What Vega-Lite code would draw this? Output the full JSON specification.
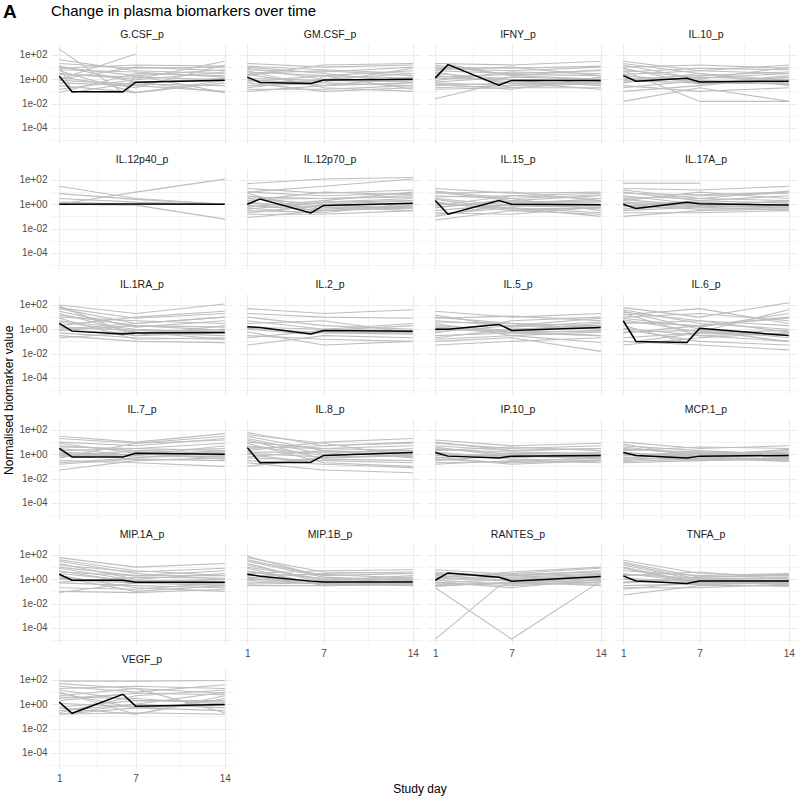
{
"$schema":"https://vega.github.io/schema/vega-lite/v6.json",
"background":"white",
"padding":{"left":2,"right":1,"top":2,"bottom":2},
"config":{"font":"Liberation Sans","view":{"stroke":null},"concat":{"spacing":0},
 "header":{"labelFontSize":10.5,"labelColor":"#1A1A1A","labelPadding":4},
 "axis":{"ticks":false,"domain":false,"gridColor":"#EBEBEB","labelColor":"#4D4D4D","labelFontSize":10,"labelPadding":4}},
"title":{"text":"A","anchor":"start","frame":"bounds","fontSize":19,"fontWeight":"bold","color":"black","dy":18,"offset":0},
"data":{"values":[
{"m":"G.CSF_p","s":1,"d":[1,6,7,14],"v":[300,0.08,0.5,1.2]},
{"m":"G.CSF_p","s":2,"d":[1,2,7,14],"v":[2,0.08,0.6,0.8]},
{"m":"G.CSF_p","s":3,"d":[1,7],"v":[1,120]},
{"m":"G.CSF_p","s":4,"d":[1,7,14],"v":[40,5,3]},
{"m":"G.CSF_p","s":5,"d":[1,7,14],"v":[20,8,10]},
{"m":"G.CSF_p","s":6,"d":[1,7,14],"v":[10,2,0.08]},
{"m":"G.CSF_p","s":7,"d":[1,7,14],"v":[5,0.08,0.5]},
{"m":"G.CSF_p","s":8,"d":[1,7,14],"v":[3,1,30]},
{"m":"G.CSF_p","s":9,"d":[1,7,14],"v":[0.08,3,2]},
{"m":"G.CSF_p","s":10,"d":[1,7,14],"v":[1,10,5]},
{"m":"G.CSF_p","s":11,"d":[1,7,14],"v":[0.5,0.3,0.1]},
{"m":"G.CSF_p","s":12,"d":[1,7,14],"v":[8,15,12]},
{"m":"G.CSF_p","s":13,"d":[1,7,14],"v":[0.3,0.08,0.8]},
{"m":"G.CSF_p","s":14,"d":[1,2,6,7,14],"v":[15,0.1,0.08,2,6]},
{"m":"G.CSF_p","s":15,"d":[1,7,14],"v":[0.8,0.4,0.3]},
{"m":"G.CSF_p","s":16,"d":[1,7,14],"v":[2.5,1.5,0.9]},
{"m":"G.CSF_p","s":17,"d":[1,7,14],"v":[12,0.6,0.08]},
{"m":"G.CSF_p","s":18,"d":[1,7,14],"v":[0.15,0.9,4]},
{"m":"G.CSF_p","s":19,"d":[1,7,14],"v":[6,4,1.5]},
{"m":"G.CSF_p","s":20,"d":[1,7,14],"v":[1.5,0.2,15]},
{"m":"G.CSF_p","s":0,"d":[1,2,6,7,14],"v":[1.8,0.093,0.093,0.57,0.83]},
{"m":"GM.CSF_p","s":1,"d":[1,7,14],"v":[20,10,15]},
{"m":"GM.CSF_p","s":2,"d":[1,7,14],"v":[10,3,0.5]},
{"m":"GM.CSF_p","s":3,"d":[1,2,7,14],"v":[1.5,0.5,0.8,1]},
{"m":"GM.CSF_p","s":4,"d":[1,6,7,14],"v":[0.3,0.4,2,5]},
{"m":"GM.CSF_p","s":5,"d":[1,7,14],"v":[5,0.2,0.1]},
{"m":"GM.CSF_p","s":6,"d":[1,7,14],"v":[0.2,1,3]},
{"m":"GM.CSF_p","s":7,"d":[1,7,14],"v":[3,5,2]},
{"m":"GM.CSF_p","s":8,"d":[1,7,14],"v":[0.8,0.5,0.3]},
{"m":"GM.CSF_p","s":9,"d":[1,7,14],"v":[2,15,20]},
{"m":"GM.CSF_p","s":10,"d":[1,7,14],"v":[0.5,0.1,0.2]},
{"m":"GM.CSF_p","s":11,"d":[1,7,14],"v":[8,1,0.8]},
{"m":"GM.CSF_p","s":12,"d":[1,2,6,7,14],"v":[1,0.6,0.5,0.6,8]},
{"m":"GM.CSF_p","s":13,"d":[1,7,14],"v":[0.1,0.3,1.5]},
{"m":"GM.CSF_p","s":14,"d":[1,7,14],"v":[4,2,0.15]},
{"m":"GM.CSF_p","s":15,"d":[1,7,14],"v":[1.2,0.8,0.6]},
{"m":"GM.CSF_p","s":16,"d":[1,7,14],"v":[0.6,2,1.2]},
{"m":"GM.CSF_p","s":17,"d":[1,7,14],"v":[6,4,10]},
{"m":"GM.CSF_p","s":18,"d":[1,7,14],"v":[0.15,0.15,0.3]},
{"m":"GM.CSF_p","s":19,"d":[1,7,14],"v":[2.5,0.3,0.5]},
{"m":"GM.CSF_p","s":20,"d":[1,7,14],"v":[12,6,3]},
{"m":"GM.CSF_p","s":0,"d":[1,2,6,7,14],"v":[1.5,0.55,0.45,0.85,1.0]},
{"m":"IFNY_p","s":1,"d":[1,2,7,14],"v":[1,16,2,1]},
{"m":"IFNY_p","s":2,"d":[1,7,14],"v":[20,15,30]},
{"m":"IFNY_p","s":3,"d":[1,7,14],"v":[10,8,12]},
{"m":"IFNY_p","s":4,"d":[1,6,7,14],"v":[0.5,0.32,0.2,0.5]},
{"m":"IFNY_p","s":5,"d":[1,7,14],"v":[0.025,0.8,0.3]},
{"m":"IFNY_p","s":6,"d":[1,7,14],"v":[3,1,0.8]},
{"m":"IFNY_p","s":7,"d":[1,7,14],"v":[0.3,0.5,0.15]},
{"m":"IFNY_p","s":8,"d":[1,7,14],"v":[5,3,5]},
{"m":"IFNY_p","s":9,"d":[1,7,14],"v":[0.15,0.2,0.2]},
{"m":"IFNY_p","s":10,"d":[1,7,14],"v":[2,0.6,0.4]},
{"m":"IFNY_p","s":11,"d":[1,7,14],"v":[0.8,4,3]},
{"m":"IFNY_p","s":12,"d":[1,7,14],"v":[15,2,6]},
{"m":"IFNY_p","s":13,"d":[1,7,14],"v":[0.4,0.15,1.5]},
{"m":"IFNY_p","s":14,"d":[1,7,14],"v":[6,10,2]},
{"m":"IFNY_p","s":15,"d":[1,7,14],"v":[1.2,0.9,0.7]},
{"m":"IFNY_p","s":16,"d":[1,7,14],"v":[0.6,1.5,1]},
{"m":"IFNY_p","s":17,"d":[1,7,14],"v":[4,0.4,0.6]},
{"m":"IFNY_p","s":18,"d":[1,7,14],"v":[0.2,0.3,0.5]},
{"m":"IFNY_p","s":19,"d":[1,7,14],"v":[8,5,10]},
{"m":"IFNY_p","s":20,"d":[1,7,14],"v":[1.5,2.5,2]},
{"m":"IFNY_p","s":0,"d":[1,2,6,7,14],"v":[1.3,16,0.32,0.8,0.8]},
{"m":"IL.10_p","s":1,"d":[1,7,14],"v":[30,5,3]},
{"m":"IL.10_p","s":2,"d":[1,7,14],"v":[10,15,8]},
{"m":"IL.10_p","s":3,"d":[1,2,7,14],"v":[3,0.7,0.5,0.4]},
{"m":"IL.10_p","s":4,"d":[1,6,7,14],"v":[0.8,1.2,0.6,1]},
{"m":"IL.10_p","s":5,"d":[1,7,14],"v":[0.015,0.2,0.015]},
{"m":"IL.10_p","s":6,"d":[1,7,14],"v":[5,0.015,0.015]},
{"m":"IL.10_p","s":7,"d":[1,7,14],"v":[1,2,4]},
{"m":"IL.10_p","s":8,"d":[1,7,14],"v":[0.3,0.1,0.2]},
{"m":"IL.10_p","s":9,"d":[1,7,14],"v":[2,0.6,0.7]},
{"m":"IL.10_p","s":10,"d":[1,7,14],"v":[15,1,10]},
{"m":"IL.10_p","s":11,"d":[1,7,14],"v":[0.5,3,0.3]},
{"m":"IL.10_p","s":12,"d":[1,7,14],"v":[8,0.4,2]},
{"m":"IL.10_p","s":13,"d":[1,7,14],"v":[0.1,0.3,1.5]},
{"m":"IL.10_p","s":14,"d":[1,7,14],"v":[4,8,6]},
{"m":"IL.10_p","s":15,"d":[1,7,14],"v":[1.2,0.8,0.5]},
{"m":"IL.10_p","s":16,"d":[1,7,14],"v":[0.6,1.5,1]},
{"m":"IL.10_p","s":17,"d":[1,7,14],"v":[20,3,0.8]},
{"m":"IL.10_p","s":18,"d":[1,7,14],"v":[0.2,0.8,0.4]},
{"m":"IL.10_p","s":19,"d":[1,7,14],"v":[2.5,5,15]},
{"m":"IL.10_p","s":20,"d":[1,7,14],"v":[6,1.2,3]},
{"m":"IL.10_p","s":0,"d":[1,2,6,7,14],"v":[2,0.7,1.2,0.6,0.7]},
{"m":"IL.12p40_p","s":1,"d":[1,7,14],"v":[30,3,1]},
{"m":"IL.12p40_p","s":2,"d":[1,7,14],"v":[7.5,2.5,1]},
{"m":"IL.12p40_p","s":3,"d":[1,7,14],"v":[3,1.5,1]},
{"m":"IL.12p40_p","s":4,"d":[1,7,14],"v":[1,10,117]},
{"m":"IL.12p40_p","s":5,"d":[1,7,14],"v":[1,0.85,0.06]},
{"m":"IL.12p40_p","s":6,"d":[1,7,14],"v":[1.5,1,1]},
{"m":"IL.12p40_p","s":0,"d":[1,7,14],"v":[1,1.05,1]},
{"m":"IL.12p70_p","s":1,"d":[1,7,14],"v":[50,120,160]},
{"m":"IL.12p70_p","s":2,"d":[1,7,14],"v":[10,30,120]},
{"m":"IL.12p70_p","s":3,"d":[1,2,7,14],"v":[1,2.7,3,5]},
{"m":"IL.12p70_p","s":4,"d":[1,6,7,14],"v":[0.5,0.19,0.8,1]},
{"m":"IL.12p70_p","s":5,"d":[1,7,14],"v":[0.08,0.3,0.5]},
{"m":"IL.12p70_p","s":6,"d":[1,7,14],"v":[10,5,8]},
{"m":"IL.12p70_p","s":7,"d":[1,7,14],"v":[3,1,2]},
{"m":"IL.12p70_p","s":8,"d":[1,7,14],"v":[0.2,0.8,0.5]},
{"m":"IL.12p70_p","s":9,"d":[1,7,14],"v":[5,0.6,0.3]},
{"m":"IL.12p70_p","s":10,"d":[1,7,14],"v":[0.6,2,10]},
{"m":"IL.12p70_p","s":11,"d":[1,7,14],"v":[1.5,0.4,0.8]},
{"m":"IL.12p70_p","s":12,"d":[1,7,14],"v":[0.3,0.2,1.2]},
{"m":"IL.12p70_p","s":13,"d":[1,6,7,14],"v":[8,0.3,1.5,3]},
{"m":"IL.12p70_p","s":14,"d":[1,7,14],"v":[2,10,6]},
{"m":"IL.12p70_p","s":15,"d":[1,7,14],"v":[1.2,0.6,0.5]},
{"m":"IL.12p70_p","s":16,"d":[1,7,14],"v":[0.4,1.5,2]},
{"m":"IL.12p70_p","s":17,"d":[1,7,14],"v":[4,3,4]},
{"m":"IL.12p70_p","s":18,"d":[1,7,14],"v":[0.15,0.15,0.3]},
{"m":"IL.12p70_p","s":19,"d":[1,7,14],"v":[20,8,15]},
{"m":"IL.12p70_p","s":20,"d":[1,7,14],"v":[0.8,0.3,0.7]},
{"m":"IL.12p70_p","s":0,"d":[1,2,6,7,14],"v":[1,2.7,0.19,0.8,1.2]},
{"m":"IL.15_p","s":1,"d":[1,7,14],"v":[20,8,10]},
{"m":"IL.15_p","s":2,"d":[1,2,7,14],"v":[2,0.15,1,0.8]},
{"m":"IL.15_p","s":3,"d":[1,6,7,14],"v":[0.5,2,1.5,2]},
{"m":"IL.15_p","s":4,"d":[1,7,14],"v":[0.05,0.3,0.5]},
{"m":"IL.15_p","s":5,"d":[1,7,14],"v":[5,3,0.3]},
{"m":"IL.15_p","s":6,"d":[1,7,14],"v":[1,0.5,0.1]},
{"m":"IL.15_p","s":7,"d":[1,7,14],"v":[10,2,5]},
{"m":"IL.15_p","s":8,"d":[1,7,14],"v":[0.3,1,3]},
{"m":"IL.15_p","s":9,"d":[1,7,14],"v":[3,0.8,0.9]},
{"m":"IL.15_p","s":10,"d":[1,7,14],"v":[0.8,5,8]},
{"m":"IL.15_p","s":11,"d":[1,7,14],"v":[0.2,0.15,0.6]},
{"m":"IL.15_p","s":12,"d":[1,7,14],"v":[8,10,2]},
{"m":"IL.15_p","s":13,"d":[1,7,14],"v":[1.5,0.3,0.15]},
{"m":"IL.15_p","s":14,"d":[1,7,14],"v":[0.1,1.2,1]},
{"m":"IL.15_p","s":15,"d":[1,7,14],"v":[1.2,0.7,0.6]},
{"m":"IL.15_p","s":16,"d":[1,7,14],"v":[0.6,1.5,1.5]},
{"m":"IL.15_p","s":17,"d":[1,7,14],"v":[4,5,3]},
{"m":"IL.15_p","s":18,"d":[1,7,14],"v":[0.15,0.5,0.2]},
{"m":"IL.15_p","s":19,"d":[1,7,14],"v":[2.5,0.4,0.5]},
{"m":"IL.15_p","s":20,"d":[1,7,14],"v":[12,3,6]},
{"m":"IL.15_p","s":0,"d":[1,2,6,7,14],"v":[2,0.15,2,1,0.9]},
{"m":"IL.17A_p","s":1,"d":[1,7],"v":[55,55]},
{"m":"IL.17A_p","s":2,"d":[1,7,14],"v":[20,15,30]},
{"m":"IL.17A_p","s":3,"d":[1,2,7,14],"v":[1,0.45,0.8,0.6]},
{"m":"IL.17A_p","s":4,"d":[1,6,7,14],"v":[0.6,1.45,1.2,0.8]},
{"m":"IL.17A_p","s":5,"d":[1,7,14],"v":[0.1,0.3,0.4]},
{"m":"IL.17A_p","s":6,"d":[1,7,14],"v":[10,2,5]},
{"m":"IL.17A_p","s":7,"d":[1,7,14],"v":[3,5,8]},
{"m":"IL.17A_p","s":8,"d":[1,7,14],"v":[0.3,0.6,0.3]},
{"m":"IL.17A_p","s":9,"d":[1,7,14],"v":[5,1,1.5]},
{"m":"IL.17A_p","s":10,"d":[1,7,14],"v":[2,10,3]},
{"m":"IL.17A_p","s":11,"d":[1,7,14],"v":[0.8,0.4,0.5]},
{"m":"IL.17A_p","s":12,"d":[1,7,14],"v":[15,3,12]},
{"m":"IL.17A_p","s":13,"d":[1,7,14],"v":[0.4,1.5,0.7]},
{"m":"IL.17A_p","s":14,"d":[1,7,14],"v":[1.5,0.8,2]},
{"m":"IL.17A_p","s":15,"d":[1,7,14],"v":[1.2,0.6,0.8]},
{"m":"IL.17A_p","s":16,"d":[1,7,14],"v":[0.7,2,1.2]},
{"m":"IL.17A_p","s":17,"d":[1,7,14],"v":[4,3,2]},
{"m":"IL.17A_p","s":18,"d":[1,7,14],"v":[0.2,0.2,0.3]},
{"m":"IL.17A_p","s":19,"d":[1,7,14],"v":[8,6,10]},
{"m":"IL.17A_p","s":20,"d":[1,7,14],"v":[2.5,0.7,0.5]},
{"m":"IL.17A_p","s":0,"d":[1,2,6,7,14],"v":[1,0.45,1.45,1.1,0.85]},
{"m":"IL.1RA_p","s":1,"d":[1,7,14],"v":[100,20,120]},
{"m":"IL.1RA_p","s":2,"d":[1,7,14],"v":[50,3,10]},
{"m":"IL.1RA_p","s":3,"d":[1,2,7,14],"v":[3,0.7,0.5,0.3]},
{"m":"IL.1RA_p","s":4,"d":[1,6,7,14],"v":[1,0.4,0.3,0.5]},
{"m":"IL.1RA_p","s":5,"d":[1,7,14],"v":[0.3,0.1,0.08]},
{"m":"IL.1RA_p","s":6,"d":[1,7,14],"v":[20,0.5,1]},
{"m":"IL.1RA_p","s":7,"d":[1,7,14],"v":[10,5,3]},
{"m":"IL.1RA_p","s":8,"d":[1,7,14],"v":[0.5,0.2,0.15]},
{"m":"IL.1RA_p","s":9,"d":[1,7,14],"v":[5,1,0.5]},
{"m":"IL.1RA_p","s":10,"d":[1,7,14],"v":[2,10,30]},
{"m":"IL.1RA_p","s":11,"d":[1,7,14],"v":[80,0.3,2]},
{"m":"IL.1RA_p","s":12,"d":[1,7,14],"v":[0.8,2,0.8]},
{"m":"IL.1RA_p","s":13,"d":[1,7,14],"v":[8,0.15,0.2]},
{"m":"IL.1RA_p","s":14,"d":[1,7,14],"v":[30,1.5,5]},
{"m":"IL.1RA_p","s":15,"d":[1,7,14],"v":[1.5,0.8,0.6]},
{"m":"IL.1RA_p","s":16,"d":[1,7,14],"v":[0.2,0.5,1]},
{"m":"IL.1RA_p","s":17,"d":[1,7,14],"v":[15,2,1.5]},
{"m":"IL.1RA_p","s":18,"d":[1,7,14],"v":[4,0.6,0.15]},
{"m":"IL.1RA_p","s":19,"d":[1,7,14],"v":[60,8,20]},
{"m":"IL.1RA_p","s":20,"d":[1,7,14],"v":[1,3,10]},
{"m":"IL.1RA_p","s":0,"d":[1,2,6,7,14],"v":[3,0.7,0.4,0.5,0.55]},
{"m":"IL.2_p","s":1,"d":[1,7,14],"v":[50,20,40]},
{"m":"IL.2_p","s":2,"d":[1,2,7,14],"v":[1.5,1.4,1,0.7]},
{"m":"IL.2_p","s":3,"d":[1,6,7,14],"v":[1,0.4,0.6,0.5]},
{"m":"IL.2_p","s":4,"d":[1,7,14],"v":[0.05,0.3,0.2]},
{"m":"IL.2_p","s":5,"d":[1,7,14],"v":[5,1,3]},
{"m":"IL.2_p","s":6,"d":[1,7,14],"v":[0.3,0.15,0.1]},
{"m":"IL.2_p","s":7,"d":[1,7,14],"v":[10,2,1]},
{"m":"IL.2_p","s":8,"d":[1,7,14],"v":[0.2,0.8,2]},
{"m":"IL.2_p","s":9,"d":[1,7,14],"v":[3,5,0.5]},
{"m":"IL.2_p","s":10,"d":[1,7,14],"v":[1.2,0.5,0.4]},
{"m":"IL.2_p","s":11,"d":[1,7,14],"v":[20,10,8]},
{"m":"IL.2_p","s":12,"d":[1,7,14],"v":[0.6,0.05,0.1]},
{"m":"IL.2_p","s":0,"d":[1,2,6,7,14],"v":[1.6,1.4,0.4,0.8,0.7]},
{"m":"IL.5_p","s":1,"d":[1,7,14],"v":[30,10,20]},
{"m":"IL.5_p","s":2,"d":[1,2,7,14],"v":[1,1,0.5,0.8]},
{"m":"IL.5_p","s":3,"d":[1,6,7,14],"v":[0.8,2.5,1,1.4]},
{"m":"IL.5_p","s":4,"d":[1,7,14],"v":[0.1,0.2,0.015]},
{"m":"IL.5_p","s":5,"d":[1,7,14],"v":[5,2,8]},
{"m":"IL.5_p","s":6,"d":[1,7,14],"v":[0.3,0.5,0.3]},
{"m":"IL.5_p","s":7,"d":[1,7,14],"v":[10,3,1]},
{"m":"IL.5_p","s":8,"d":[1,7,14],"v":[0.05,0.1,0.2]},
{"m":"IL.5_p","s":9,"d":[1,7,14],"v":[2,0.8,3]},
{"m":"IL.5_p","s":10,"d":[1,7,14],"v":[0.5,5,10]},
{"m":"IL.5_p","s":11,"d":[1,7,14],"v":[3,0.3,0.6]},
{"m":"IL.5_p","s":12,"d":[1,7,14],"v":[0.2,1,2]},
{"m":"IL.5_p","s":13,"d":[1,7,14],"v":[8,12,5]},
{"m":"IL.5_p","s":14,"d":[1,7,14],"v":[1.2,0.7,0.6]},
{"m":"IL.5_p","s":15,"d":[1,7,14],"v":[0.6,2,1.5]},
{"m":"IL.5_p","s":16,"d":[1,7,14],"v":[4,3,2]},
{"m":"IL.5_p","s":17,"d":[1,7,14],"v":[0.15,0.3,0.08]},
{"m":"IL.5_p","s":18,"d":[1,7,14],"v":[15,1.5,4]},
{"m":"IL.5_p","s":19,"d":[1,7,14],"v":[1.5,0.6,0.3]},
{"m":"IL.5_p","s":0,"d":[1,2,6,7,14],"v":[1,1,2.5,0.8,1.4]},
{"m":"IL.6_p","s":1,"d":[1,7,14],"v":[60,10,150]},
{"m":"IL.6_p","s":2,"d":[1,2,7,14],"v":[5,0.1,0.5,0.3]},
{"m":"IL.6_p","s":3,"d":[1,6,7,14],"v":[2,0.08,1,0.2]},
{"m":"IL.6_p","s":4,"d":[1,7,14],"v":[30,1,0.3]},
{"m":"IL.6_p","s":5,"d":[1,7,14],"v":[10,20,5]},
{"m":"IL.6_p","s":6,"d":[1,7,14],"v":[0.1,0.05,0.02]},
{"m":"IL.6_p","s":7,"d":[1,7,14],"v":[3,5,2]},
{"m":"IL.6_p","s":8,"d":[1,7,14],"v":[20,0.3,0.1]},
{"m":"IL.6_p","s":9,"d":[1,7,14],"v":[0.5,2,10]},
{"m":"IL.6_p","s":10,"d":[1,7,14],"v":[1,0.1,0.05]},
{"m":"IL.6_p","s":11,"d":[1,7,14],"v":[40,3,1]},
{"m":"IL.6_p","s":12,"d":[1,7,14],"v":[0.2,0.5,0.8]},
{"m":"IL.6_p","s":13,"d":[1,7,14],"v":[8,1.5,20]},
{"m":"IL.6_p","s":14,"d":[1,7,14],"v":[15,50,3]},
{"m":"IL.6_p","s":15,"d":[1,7,14],"v":[1.2,0.3,0.5]},
{"m":"IL.6_p","s":16,"d":[1,7,14],"v":[4,2,8]},
{"m":"IL.6_p","s":17,"d":[1,7,14],"v":[0.6,0.8,0.1]},
{"m":"IL.6_p","s":18,"d":[1,7,14],"v":[25,5,0.6]},
{"m":"IL.6_p","s":19,"d":[1,7,14],"v":[0.05,0.2,0.5]},
{"m":"IL.6_p","s":20,"d":[1,7,14],"v":[6,0.6,40]},
{"m":"IL.6_p","s":0,"d":[1,2,6,7,14],"v":[5,0.1,0.08,1.2,0.3]},
{"m":"IL.7_p","s":1,"d":[1,7,14],"v":[30,10,50]},
{"m":"IL.7_p","s":2,"d":[1,2,7,14],"v":[3,0.6,1,1]},
{"m":"IL.7_p","s":3,"d":[1,6,7,14],"v":[1,0.6,1.5,0.8]},
{"m":"IL.7_p","s":4,"d":[1,7,14],"v":[0.05,0.3,0.5]},
{"m":"IL.7_p","s":5,"d":[1,7,14],"v":[10,5,20]},
{"m":"IL.7_p","s":6,"d":[1,7,14],"v":[0.3,0.2,0.1]},
{"m":"IL.7_p","s":7,"d":[1,7,14],"v":[5,2,3]},
{"m":"IL.7_p","s":8,"d":[1,7,14],"v":[0.8,1,0.6]},
{"m":"IL.7_p","s":9,"d":[1,7,14],"v":[2,3,8]},
{"m":"IL.7_p","s":10,"d":[1,7,14],"v":[0.2,0.5,1.5]},
{"m":"IL.7_p","s":11,"d":[1,7,14],"v":[8,1.2,0.4]},
{"m":"IL.7_p","s":12,"d":[1,7,14],"v":[1.5,0.8,2]},
{"m":"IL.7_p","s":13,"d":[1,7,14],"v":[0.5,8,15]},
{"m":"IL.7_p","s":14,"d":[1,7,14],"v":[1.2,0.6,0.7]},
{"m":"IL.7_p","s":15,"d":[1,7,14],"v":[0.6,2,1.2]},
{"m":"IL.7_p","s":16,"d":[1,7,14],"v":[4,3,2]},
{"m":"IL.7_p","s":17,"d":[1,7,14],"v":[20,8,30]},
{"m":"IL.7_p","s":18,"d":[1,7,14],"v":[0.15,0.4,0.3]},
{"m":"IL.7_p","s":19,"d":[1,7,14],"v":[3,0.8,5]},
{"m":"IL.7_p","s":0,"d":[1,2,6,7,14],"v":[3,0.6,0.6,1.2,1]},
{"m":"IL.8_p","s":1,"d":[1,7,14],"v":[60,5,10]},
{"m":"IL.8_p","s":2,"d":[1,2,7,14],"v":[3.5,0.2,0.5,1]},
{"m":"IL.8_p","s":3,"d":[1,6,7,14],"v":[1,0.22,0.8,1.5]},
{"m":"IL.8_p","s":4,"d":[1,7,14],"v":[30,2,0.5]},
{"m":"IL.8_p","s":5,"d":[1,7,14],"v":[0.2,0.05,0.03]},
{"m":"IL.8_p","s":6,"d":[1,7,14],"v":[10,3,5]},
{"m":"IL.8_p","s":7,"d":[1,7,14],"v":[5,0.8,1.4]},
{"m":"IL.8_p","s":8,"d":[1,7,14],"v":[0.5,0.3,0.2]},
{"m":"IL.8_p","s":9,"d":[1,7,14],"v":[20,1,3]},
{"m":"IL.8_p","s":10,"d":[1,7,14],"v":[2,10,20]},
{"m":"IL.8_p","s":11,"d":[1,7,14],"v":[0.1,0.5,0.8]},
{"m":"IL.8_p","s":12,"d":[1,7,14],"v":[8,0.2,0.1]},
{"m":"IL.8_p","s":13,"d":[1,7,14],"v":[1.5,1.5,2]},
{"m":"IL.8_p","s":14,"d":[1,7,14],"v":[40,8,0.6]},
{"m":"IL.8_p","s":15,"d":[1,7,14],"v":[1.2,0.6,0.7]},
{"m":"IL.8_p","s":16,"d":[1,7,14],"v":[0.6,2,1.2]},
{"m":"IL.8_p","s":17,"d":[1,7,14],"v":[4,3,2]},
{"m":"IL.8_p","s":18,"d":[1,7,14],"v":[15,0.4,0.3]},
{"m":"IL.8_p","s":19,"d":[1,7,14],"v":[0.3,0.15,0.08]},
{"m":"IL.8_p","s":20,"d":[1,7,14],"v":[3,5,8]},
{"m":"IL.8_p","s":0,"d":[1,2,6,7,14],"v":[3.5,0.2,0.22,0.8,1.4]},
{"m":"IP.10_p","s":1,"d":[1,7,14],"v":[15,5,8]},
{"m":"IP.10_p","s":2,"d":[1,2,7,14],"v":[1.4,0.7,0.8,0.9]},
{"m":"IP.10_p","s":3,"d":[1,6,7,14],"v":[1,0.5,0.6,0.8]},
{"m":"IP.10_p","s":4,"d":[1,7,14],"v":[0.15,0.3,0.2]},
{"m":"IP.10_p","s":5,"d":[1,7,14],"v":[5,2,3]},
{"m":"IP.10_p","s":6,"d":[1,7,14],"v":[0.4,0.2,0.3]},
{"m":"IP.10_p","s":7,"d":[1,7,14],"v":[3,1,0.5]},
{"m":"IP.10_p","s":8,"d":[1,7,14],"v":[0.8,0.5,1.5]},
{"m":"IP.10_p","s":9,"d":[1,7,14],"v":[8,3,5]},
{"m":"IP.10_p","s":10,"d":[1,7,14],"v":[0.3,0.8,0.4]},
{"m":"IP.10_p","s":11,"d":[1,7,14],"v":[2,4,2]},
{"m":"IP.10_p","s":12,"d":[1,7,14],"v":[0.6,0.15,0.3]},
{"m":"IP.10_p","s":13,"d":[1,7,14],"v":[4,0.6,0.7]},
{"m":"IP.10_p","s":14,"d":[1,7,14],"v":[1.2,0.7,0.6]},
{"m":"IP.10_p","s":15,"d":[1,7,14],"v":[0.5,1.2,1]},
{"m":"IP.10_p","s":16,"d":[1,7,14],"v":[2.5,1.5,1.2]},
{"m":"IP.10_p","s":17,"d":[1,7,14],"v":[10,2,3]},
{"m":"IP.10_p","s":18,"d":[1,7,14],"v":[0.2,0.25,0.5]},
{"m":"IP.10_p","s":19,"d":[1,7,14],"v":[1.5,0.4,0.3]},
{"m":"IP.10_p","s":0,"d":[1,2,6,7,14],"v":[1.4,0.7,0.5,0.7,0.8]},
{"m":"MCP.1_p","s":1,"d":[1,7,14],"v":[10,3,5]},
{"m":"MCP.1_p","s":2,"d":[1,2,7,14],"v":[1.4,0.8,0.7,0.8]},
{"m":"MCP.1_p","s":3,"d":[1,6,7,14],"v":[1,0.5,0.6,0.9]},
{"m":"MCP.1_p","s":4,"d":[1,7,14],"v":[0.2,0.3,0.4]},
{"m":"MCP.1_p","s":5,"d":[1,7,14],"v":[5,2,1]},
{"m":"MCP.1_p","s":6,"d":[1,7,14],"v":[0.4,0.5,0.25]},
{"m":"MCP.1_p","s":7,"d":[1,7,14],"v":[3,1,2]},
{"m":"MCP.1_p","s":8,"d":[1,7,14],"v":[0.6,0.3,0.5]},
{"m":"MCP.1_p","s":9,"d":[1,7,14],"v":[2,4,3]},
{"m":"MCP.1_p","s":10,"d":[1,7,14],"v":[0.3,0.8,1.5]},
{"m":"MCP.1_p","s":11,"d":[1,7,14],"v":[7,0.6,0.4]},
{"m":"MCP.1_p","s":12,"d":[1,7,14],"v":[0.8,1.5,0.6]},
{"m":"MCP.1_p","s":13,"d":[1,7,14],"v":[1.2,0.7,0.6]},
{"m":"MCP.1_p","s":14,"d":[1,7,14],"v":[0.5,1.2,1]},
{"m":"MCP.1_p","s":15,"d":[1,7,14],"v":[2.5,1.5,1.2]},
{"m":"MCP.1_p","s":16,"d":[1,7,14],"v":[4,0.8,2.5]},
{"m":"MCP.1_p","s":17,"d":[1,7,14],"v":[0.25,0.4,0.3]},
{"m":"MCP.1_p","s":18,"d":[1,7,14],"v":[1.5,0.4,0.5]},
{"m":"MCP.1_p","s":0,"d":[1,2,6,7,14],"v":[1.4,0.8,0.5,0.7,0.8]},
{"m":"MIP.1A_p","s":1,"d":[1,7,14],"v":[60,10,20]},
{"m":"MIP.1A_p","s":2,"d":[1,2,7,14],"v":[2.6,0.83,0.5,0.6]},
{"m":"MIP.1A_p","s":3,"d":[1,6,7,14],"v":[1,0.83,0.6,0.5]},
{"m":"MIP.1A_p","s":4,"d":[1,7,14],"v":[30,3,1]},
{"m":"MIP.1A_p","s":5,"d":[1,7,14],"v":[0.1,0.08,0.15]},
{"m":"MIP.1A_p","s":6,"d":[1,7,14],"v":[10,2,5]},
{"m":"MIP.1A_p","s":7,"d":[1,7,14],"v":[5,0.5,0.3]},
{"m":"MIP.1A_p","s":8,"d":[1,7,14],"v":[0.5,0.3,0.2]},
{"m":"MIP.1A_p","s":9,"d":[1,7,14],"v":[20,1,3]},
{"m":"MIP.1A_p","s":10,"d":[1,7,14],"v":[2,0.2,0.1]},
{"m":"MIP.1A_p","s":11,"d":[1,7,14],"v":[0.08,0.5,1]},
{"m":"MIP.1A_p","s":12,"d":[1,7,14],"v":[8,0.8,0.6]},
{"m":"MIP.1A_p","s":13,"d":[1,7,14],"v":[1.5,0.1,0.3]},
{"m":"MIP.1A_p","s":14,"d":[1,7,14],"v":[40,5,2]},
{"m":"MIP.1A_p","s":15,"d":[1,7,14],"v":[1.2,0.6,0.4]},
{"m":"MIP.1A_p","s":16,"d":[1,7,14],"v":[0.6,1.5,1.2]},
{"m":"MIP.1A_p","s":17,"d":[1,7,14],"v":[4,2,2]},
{"m":"MIP.1A_p","s":18,"d":[1,7,14],"v":[15,4,8]},
{"m":"MIP.1A_p","s":19,"d":[1,7,14],"v":[0.2,0.15,0.5]},
{"m":"MIP.1A_p","s":20,"d":[1,7,14],"v":[3,0.7,0.9]},
{"m":"MIP.1A_p","s":0,"d":[1,2,6,7,14],"v":[2.6,0.83,0.83,0.57,0.57]},
{"m":"MIP.1B_p","s":1,"d":[1,6,7,14],"v":[80,3,3,4]},
{"m":"MIP.1B_p","s":2,"d":[1,2,7,14],"v":[2.6,1.8,0.6,0.6]},
{"m":"MIP.1B_p","s":3,"d":[1,6,7,14],"v":[1,0.7,0.6,0.5]},
{"m":"MIP.1B_p","s":4,"d":[1,7,14],"v":[40,2,3]},
{"m":"MIP.1B_p","s":5,"d":[1,7,14],"v":[20,0.5,0.6]},
{"m":"MIP.1B_p","s":6,"d":[1,7,14],"v":[0.3,0.3,0.4]},
{"m":"MIP.1B_p","s":7,"d":[1,7,14],"v":[10,1,0.8]},
{"m":"MIP.1B_p","s":8,"d":[1,7,14],"v":[5,0.4,0.3]},
{"m":"MIP.1B_p","s":9,"d":[1,7,14],"v":[0.5,0.8,1]},
{"m":"MIP.1B_p","s":10,"d":[1,7,14],"v":[3,5,6]},
{"m":"MIP.1B_p","s":11,"d":[1,7,14],"v":[1.5,0.6,0.5]},
{"m":"MIP.1B_p","s":12,"d":[1,7,14],"v":[0.8,0.4,1.5]},
{"m":"MIP.1B_p","s":13,"d":[1,7,14],"v":[30,1.5,0.8]},
{"m":"MIP.1B_p","s":14,"d":[1,7,14],"v":[8,0.3,0.4]},
{"m":"MIP.1B_p","s":15,"d":[1,7,14],"v":[1.2,0.5,0.4]},
{"m":"MIP.1B_p","s":16,"d":[1,7,14],"v":[60,4,3]},
{"m":"MIP.1B_p","s":17,"d":[1,7,14],"v":[4,1.2,1]},
{"m":"MIP.1B_p","s":18,"d":[1,7,14],"v":[15,0.8,2]},
{"m":"MIP.1B_p","s":19,"d":[1,7,14],"v":[0.4,0.5,0.6]},
{"m":"MIP.1B_p","s":20,"d":[1,7,14],"v":[2,2.5,1.2]},
{"m":"MIP.1B_p","s":0,"d":[1,2,6,7,14],"v":[2.6,1.8,0.7,0.6,0.6]},
{"m":"RANTES_p","s":1,"d":[1,6,7,14],"v":[0.000012,0.27,0.5,0.8]},
{"m":"RANTES_p","s":2,"d":[1,7,14],"v":[0.2,0.000012,0.7]},
{"m":"RANTES_p","s":3,"d":[1,2,7,14],"v":[0.83,3.3,2,3]},
{"m":"RANTES_p","s":4,"d":[1,6,7,14],"v":[1,1.45,1,1.66]},
{"m":"RANTES_p","s":5,"d":[1,7,14],"v":[3,2,5]},
{"m":"RANTES_p","s":6,"d":[1,7,14],"v":[0.5,0.3,0.6]},
{"m":"RANTES_p","s":7,"d":[1,7,14],"v":[2,0.8,1.5]},
{"m":"RANTES_p","s":8,"d":[1,7,14],"v":[0.3,0.5,0.4]},
{"m":"RANTES_p","s":9,"d":[1,7,14],"v":[1.5,3,8]},
{"m":"RANTES_p","s":10,"d":[1,7,14],"v":[0.6,0.2,1]},
{"m":"RANTES_p","s":11,"d":[1,7,14],"v":[4,1.2,2]},
{"m":"RANTES_p","s":12,"d":[1,7,14],"v":[0.25,0.6,0.3]},
{"m":"RANTES_p","s":13,"d":[1,7,14],"v":[1.2,4,10]},
{"m":"RANTES_p","s":14,"d":[1,7,14],"v":[1.2,0.7,1.2]},
{"m":"RANTES_p","s":15,"d":[1,7,14],"v":[0.5,1,0.8]},
{"m":"RANTES_p","s":16,"d":[1,7,14],"v":[2.5,1.5,2.5]},
{"m":"RANTES_p","s":17,"d":[1,7,14],"v":[0.8,0.4,0.6]},
{"m":"RANTES_p","s":18,"d":[1,7,14],"v":[6,2.5,4]},
{"m":"RANTES_p","s":19,"d":[1,7,14],"v":[0.35,0.5,1.5]},
{"m":"RANTES_p","s":0,"d":[1,2,6,7,14],"v":[0.83,3.3,1.45,0.7,1.66]},
{"m":"TNFA_p","s":1,"d":[1,7,14],"v":[36,3,2]},
{"m":"TNFA_p","s":2,"d":[1,2,7,14],"v":[1.9,0.73,0.8,0.7]},
{"m":"TNFA_p","s":3,"d":[1,6,7,14],"v":[1,0.44,0.7,0.8]},
{"m":"TNFA_p","s":4,"d":[1,7,14],"v":[0.05,0.3,0.3]},
{"m":"TNFA_p","s":5,"d":[1,7,14],"v":[20,1,1.5]},
{"m":"TNFA_p","s":6,"d":[1,7,14],"v":[10,0.5,0.4]},
{"m":"TNFA_p","s":7,"d":[1,7,14],"v":[5,2,3]},
{"m":"TNFA_p","s":8,"d":[1,7,14],"v":[0.3,0.4,0.25]},
{"m":"TNFA_p","s":9,"d":[1,7,14],"v":[3,0.6,0.5]},
{"m":"TNFA_p","s":10,"d":[1,7,14],"v":[0.6,1.5,2]},
{"m":"TNFA_p","s":11,"d":[1,7,14],"v":[15,0.8,0.6]},
{"m":"TNFA_p","s":12,"d":[1,7,14],"v":[0.2,0.2,0.4]},
{"m":"TNFA_p","s":13,"d":[1,7,14],"v":[2,4,1]},
{"m":"TNFA_p","s":14,"d":[1,7,14],"v":[1.2,0.6,0.5]},
{"m":"TNFA_p","s":15,"d":[1,7,14],"v":[0.5,1,0.8]},
{"m":"TNFA_p","s":16,"d":[1,7,14],"v":[2.5,1.2,1.2]},
{"m":"TNFA_p","s":17,"d":[1,7,14],"v":[8,0.4,0.6]},
{"m":"TNFA_p","s":18,"d":[1,7,14],"v":[0.15,0.6,0.4]},
{"m":"TNFA_p","s":19,"d":[1,7,14],"v":[25,1.5,2.5]},
{"m":"TNFA_p","s":0,"d":[1,2,6,7,14],"v":[1.9,0.73,0.44,0.73,0.73]},
{"m":"VEGF_p","s":1,"d":[1,7,14],"v":[80,80,90]},
{"m":"VEGF_p","s":2,"d":[1,2,7,14],"v":[1.5,0.18,0.5,1]},
{"m":"VEGF_p","s":3,"d":[1,6,7,14],"v":[3,6.6,0.7,0.9]},
{"m":"VEGF_p","s":4,"d":[1,7,14],"v":[20,30,20]},
{"m":"VEGF_p","s":5,"d":[1,7,14],"v":[10,0.15,5]},
{"m":"VEGF_p","s":6,"d":[1,7,14],"v":[0.15,0.2,0.15]},
{"m":"VEGF_p","s":7,"d":[1,7,14],"v":[5,20,0.2]},
{"m":"VEGF_p","s":8,"d":[1,7,14],"v":[0.3,1,10]},
{"m":"VEGF_p","s":9,"d":[1,7,14],"v":[15,2,1.5]},
{"m":"VEGF_p","s":10,"d":[1,7,14],"v":[0.5,0.15,3]},
{"m":"VEGF_p","s":11,"d":[1,7,14],"v":[2,8,6]},
{"m":"VEGF_p","s":12,"d":[1,7,14],"v":[8,0.5,0.3]},
{"m":"VEGF_p","s":13,"d":[1,7,14],"v":[0.2,5,15]},
{"m":"VEGF_p","s":14,"d":[1,7,14],"v":[1.2,0.6,0.8]},
{"m":"VEGF_p","s":15,"d":[1,7,14],"v":[0.6,2,2]},
{"m":"VEGF_p","s":16,"d":[1,7,14],"v":[4,3,1]},
{"m":"VEGF_p","s":17,"d":[1,7,14],"v":[30,10,40]},
{"m":"VEGF_p","s":18,"d":[1,7,14],"v":[0.15,1,0.5]},
{"m":"VEGF_p","s":19,"d":[1,7,14],"v":[50,20,8]},
{"m":"VEGF_p","s":0,"d":[1,2,6,7,14],"v":[1.5,0.18,6.6,0.7,0.94]}
]},
"transform":[{"flatten":["d","v"]}],
"vconcat":[{
"title":{"text":"Change in plasma biomarkers over time","anchor":"start","frame":"group","fontSize":15,"fontWeight":"normal","color":"black","offset":11,"dx":0},
"vconcat":[{
"title":{"text":"Normalised biomarker value","orient":"left","anchor":"middle","fontSize":12,"fontWeight":"normal","color":"black","offset":3,"dx":12},
"vconcat":[{
"title":{"text":"Study day","orient":"bottom","anchor":"middle","fontSize":12,"fontWeight":"normal","color":"black","offset":1,"dx":12},
"spacing":6,
"hconcat":[
{
"transform":[{"filter":"indexof(['G.CSF_p','IL.12p40_p','IL.1RA_p','IL.7_p','MIP.1A_p','VEGF_p'],datum.m)>=0"}],
"facet":{"field":"m","type":"nominal","title":null,"sort":["G.CSF_p","IL.12p40_p","IL.1RA_p","IL.7_p","MIP.1A_p","VEGF_p"]},
"columns":1,
"spacing":{"row":10,"column":6},
"spec":{
 "width":182,"height":100,
 "encoding":{
  "x":{"field":"d","type":"quantitative","scale":{"domain":[0.35,14.65],"nice":false,"zero":false},
   "axis":{"title":null,"values":[1,4,7,10.5,14],"labelExpr":"datum.value==1?'1':datum.value==7?'7':datum.value==14?'14':''","gridWidth":{"condition":{"test":"datum.value==4||datum.value==10.5","value":0.6},"value":1.1}}},
  "y":{"field":"v","type":"quantitative","scale":{"type":"log","domain":[0.0000047,794],"nice":false},
   "axis":{"title":null,"values":[0.00001,0.0001,0.001,0.01,0.1,1,10,100],"labelExpr":"datum.value>50?'1e+02':(datum.value>0.5&&datum.value<5)?'1e+00':(datum.value>0.005&&datum.value<0.05)?'1e-02':(datum.value>0.00005&&datum.value<0.0005)?'1e-04':''","gridWidth":{"condition":{"test":"datum.value==10||datum.value==0.1||datum.value==0.001||datum.value==0.00001","value":0.6},"value":1.1}}}
 },
 "layer":[
  {"transform":[{"filter":"datum.s>0"}],"mark":{"type":"line","color":"#BEBEBE","strokeWidth":1.1},"encoding":{"detail":{"field":"s","type":"nominal"}}},
  {"transform":[{"filter":"datum.s==0"}],"mark":{"type":"line","color":"black","strokeWidth":1.5},"encoding":{}}
 ]
}
},
{
"transform":[{"filter":"indexof(['G.CSF_p','IL.12p40_p','IL.1RA_p','IL.7_p','MIP.1A_p','VEGF_p'],datum.m)<0"}],
"facet":{"field":"m","type":"nominal","title":null,"sort":["GM.CSF_p","IFNY_p","IL.10_p","IL.12p70_p","IL.15_p","IL.17A_p","IL.2_p","IL.5_p","IL.6_p","IL.8_p","IP.10_p","MCP.1_p","MIP.1B_p","RANTES_p","TNFA_p"]},
"columns":3,
"spacing":{"row":10,"column":6},
"spec":{
 "width":182,"height":100,
 "encoding":{
  "x":{"field":"d","type":"quantitative","scale":{"domain":[0.35,14.65],"nice":false,"zero":false},
   "axis":{"title":null,"values":[1,4,7,10.5,14],"labelExpr":"datum.value==1?'1':datum.value==7?'7':datum.value==14?'14':''","gridWidth":{"condition":{"test":"datum.value==4||datum.value==10.5","value":0.6},"value":1.1}}},
  "y":{"field":"v","type":"quantitative","scale":{"type":"log","domain":[0.0000047,794],"nice":false},
   "axis":{"title":null,"labels":false,"minExtent":0,"values":[0.00001,0.0001,0.001,0.01,0.1,1,10,100],"gridWidth":{"condition":{"test":"datum.value==10||datum.value==0.1||datum.value==0.001||datum.value==0.00001","value":0.6},"value":1.1}}}
 },
 "layer":[
  {"transform":[{"filter":"datum.s>0"}],"mark":{"type":"line","color":"#BEBEBE","strokeWidth":1.1},"encoding":{"detail":{"field":"s","type":"nominal"}}},
  {"transform":[{"filter":"datum.s==0"}],"mark":{"type":"line","color":"black","strokeWidth":1.5},"encoding":{}}
 ]
}
}
]
}]
}]
}]
}
